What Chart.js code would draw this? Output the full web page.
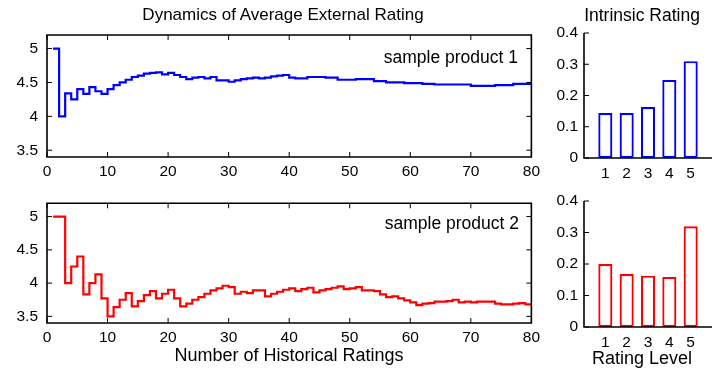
<!DOCTYPE html>
<html>
<head>
<meta charset="utf-8">
<script src="https://cdn.jsdelivr.net/npm/chart.js@4.4.1/dist/chart.umd.min.js"></script>
<style>
  body { margin: 0; background: #fff; }
  #quadro { position: relative; width: 728px; height: 373px; overflow: hidden; font-family: "Liberation Sans", Arial, sans-serif; color: #000; }
  canvas { position: absolute; }
  .texto { position: absolute; white-space: nowrap; transform: translate(-50%, -50%); }
  .direita { transform: translate(-100%, -50%); }
</style>
</head>
<body>
<div id="quadro">
  <canvas id="linha1" width="545" height="185" style="left:0;top:0"></canvas>
  <canvas id="linha2" width="545" height="188" style="left:0;top:185px"></canvas>
  <canvas id="barra1" width="183" height="185" style="left:545px;top:0"></canvas>
  <canvas id="barra2" width="183" height="188" style="left:545px;top:185px"></canvas>

  <div class="texto" style="left:283px;top:15px;font-size:17px">Dynamics of Average External Rating</div>
  <div class="texto" style="left:642px;top:15px;font-size:17.5px">Intrinsic Rating</div>
  <div class="texto direita" style="left:518px;top:57px;font-size:17.5px">sample product 1</div>
  <div class="texto direita" style="left:519px;top:223px;font-size:17.5px">sample product 2</div>
  <div class="texto" style="left:289px;top:355px;font-size:18px">Number of Historical Ratings</div>
  <div class="texto" style="left:642px;top:358px;font-size:18px">Rating Level</div>
</div>

<script>
// media acumulada da nota externa, n = 1..80
var mediaProduto1 = [
    5.00, 4.00, 4.34, 4.25, 4.40, 4.33, 4.43, 4.37, 4.33, 4.40,
    4.46, 4.50, 4.54, 4.58, 4.60, 4.63, 4.64, 4.65, 4.62, 4.64,
    4.61, 4.58, 4.55, 4.57, 4.58, 4.56, 4.58, 4.53, 4.53, 4.51,
    4.53, 4.55, 4.56, 4.57, 4.56, 4.57, 4.59, 4.60, 4.61, 4.57,
    4.56, 4.56, 4.58, 4.58, 4.58, 4.57, 4.57, 4.54, 4.54, 4.54,
    4.55, 4.55, 4.55, 4.52, 4.52, 4.50, 4.50, 4.50, 4.49, 4.49,
    4.49, 4.48, 4.48, 4.47, 4.47, 4.47, 4.47, 4.47, 4.47, 4.45,
    4.45, 4.45, 4.45, 4.46, 4.46, 4.46, 4.48, 4.48, 4.48, 4.48
];
var mediaProduto2 = [
    5.00, 5.00, 4.00, 4.25, 4.40, 3.83, 4.00, 4.13, 3.77, 3.50,
    3.64, 3.75, 3.85, 3.65, 3.73, 3.82, 3.88, 3.77, 3.84, 3.90,
    3.77, 3.65, 3.69, 3.75, 3.79, 3.84, 3.89, 3.92, 3.96, 3.94,
    3.84, 3.87, 3.85, 3.89, 3.89, 3.80, 3.84, 3.87, 3.90, 3.92,
    3.88, 3.91, 3.93, 3.86, 3.89, 3.91, 3.93, 3.95, 3.91, 3.92,
    3.94, 3.89, 3.89, 3.88, 3.83, 3.79, 3.80, 3.77, 3.74, 3.71,
    3.67, 3.69, 3.70, 3.72, 3.72, 3.73, 3.75, 3.71, 3.72, 3.71,
    3.72, 3.72, 3.72, 3.69, 3.68, 3.68, 3.69, 3.70, 3.68, 3.68
];

// nota intrinseca por nivel
var niveis = [1, 2, 3, 4, 5];
var intrinsecaProduto1 = [0.144, 0.144, 0.163, 0.25, 0.31];
var intrinsecaProduto2 = [0.20, 0.168, 0.163, 0.159, 0.32];

var ticksYLinha = [3.5, 4, 4.5, 5];
var ticksYBarra = [0, 0.1, 0.2, 0.3, 0.4];

var fonteTicks = { family: '"Liberation Sans", Arial, sans-serif', size: 15.5 };

// caixa estilo matlab com ticks para dentro
var caixaPlugin = {
    id: 'caixa',
    afterDraw: function(chart, args, opts) {
        var ctx = chart.ctx;
        var a = chart.chartArea;
        var sx = chart.scales.x;
        var sy = chart.scales.y;
        var tam = 5;
        ctx.save();
        ctx.strokeStyle = '#000';
        ctx.lineWidth = 1.6;
        ctx.beginPath();
        ctx.moveTo(a.left, a.top);
        ctx.lineTo(a.left, a.bottom);
        ctx.lineTo(a.right, a.bottom);
        if (opts.fechada) {
            ctx.lineTo(a.right, a.top);
            ctx.closePath();
        }
        ctx.stroke();

        ctx.lineWidth = 1;
        ctx.beginPath();
        if (opts.ticksX) {
            sx.ticks.forEach(function(t) {
                var px = sx.getPixelForValue(t.value);
                ctx.moveTo(px, a.bottom);
                ctx.lineTo(px, a.bottom - tam);
                if (opts.fechada) {
                    ctx.moveTo(px, a.top);
                    ctx.lineTo(px, a.top + tam);
                }
            });
        }
        sy.ticks.forEach(function(t) {
            var py = sy.getPixelForValue(t.value);
            ctx.moveTo(a.left, py);
            ctx.lineTo(a.left + tam, py);
            if (opts.fechada) {
                ctx.moveTo(a.right, py);
                ctx.lineTo(a.right - tam, py);
            }
        });
        ctx.stroke();
        ctx.restore();
    }
};

function graficoLinha(id, valores, cor, alturaX, paddingTopo) {
    var ctx = document.getElementById(id).getContext('2d');
    var pontos = [];
    for (var i = 0; i < valores.length; i++) {
        pontos.push({ x: i + 1, y: valores[i] });
    }

    new Chart(ctx, {
        type: 'line',
        data: {
            datasets: [{
                data: pontos,
                stepped: true,
                borderColor: cor,
                borderWidth: 2.2,
                pointRadius: 0,
                fill: false
            }]
        },
        options: {
            responsive: false,
            animation: false,
            layout: { padding: { top: paddingTopo, right: 12, left: 0, bottom: 0 } },
            plugins: {
                legend: { display: false },
                tooltip: { enabled: false },
                caixa: { fechada: true, ticksX: true }
            },
            scales: {
                x: {
                    type: 'linear',
                    min: 0,
                    max: 80,
                    ticks: { stepSize: 10, color: '#000', font: fonteTicks, padding: 5, maxRotation: 0 },
                    grid: { display: false, drawTicks: false },
                    border: { display: false },
                    afterFit: function(s) { s.height = alturaX; }
                },
                y: {
                    min: 3.4,
                    max: 5.2,
                    afterBuildTicks: function(s) {
                        s.ticks = ticksYLinha.map(function(v) { return { value: v }; });
                    },
                    ticks: {
                        color: '#000',
                        font: fonteTicks,
                        padding: 9,
                        callback: function(v) { return String(v); }
                    },
                    grid: { display: false, drawTicks: false },
                    border: { display: false },
                    afterFit: function(s) { s.width = 47; }
                }
            }
        },
        plugins: [caixaPlugin]
    });
}

function graficoBarra(id, valores, cor, alturaX, paddingTopo) {
    var ctx = document.getElementById(id).getContext('2d');
    var barras = niveis.map(function(n, i) { return { x: n, y: valores[i] }; });

    new Chart(ctx, {
        type: 'bar',
        data: {
            datasets: [{
                data: barras,
                backgroundColor: '#fff',
                borderColor: cor,
                borderWidth: 2.2,
                borderSkipped: false,
                barPercentage: 0.66,
                categoryPercentage: 1
            }]
        },
        options: {
            responsive: false,
            animation: false,
            layout: { padding: { top: paddingTopo, right: 16, left: 0, bottom: 0 } },
            plugins: {
                legend: { display: false },
                tooltip: { enabled: false },
                caixa: { fechada: false, ticksX: false }
            },
            scales: {
                x: {
                    type: 'linear',
                    min: 0,
                    max: 6,
                    offset: false,
                    afterBuildTicks: function(s) {
                        s.ticks = niveis.map(function(v) { return { value: v }; });
                    },
                    ticks: { color: '#000', font: fonteTicks, padding: 6, maxRotation: 0 },
                    grid: { display: false, drawTicks: false },
                    border: { display: false },
                    afterFit: function(s) { s.height = alturaX; }
                },
                y: {
                    min: 0,
                    max: 0.4,
                    afterBuildTicks: function(s) {
                        s.ticks = ticksYBarra.map(function(v) { return { value: v }; });
                    },
                    ticks: {
                        color: '#000',
                        font: fonteTicks,
                        padding: 6,
                        callback: function(v) { return String(v); }
                    },
                    grid: { display: false, drawTicks: false },
                    border: { display: false },
                    afterFit: function(s) { s.width = 39; }
                }
            }
        },
        plugins: [caixaPlugin]
    });
}

graficoLinha('linha1', mediaProduto1, '#0000ff', 28, 35);
graficoLinha('linha2', mediaProduto2, '#ff0000', 50, 16);
graficoBarra('barra1', intrinsecaProduto1, '#0000ff', 27, 33);
graficoBarra('barra2', intrinsecaProduto2, '#ff0000', 46, 16);
</script>
</body>
</html>
